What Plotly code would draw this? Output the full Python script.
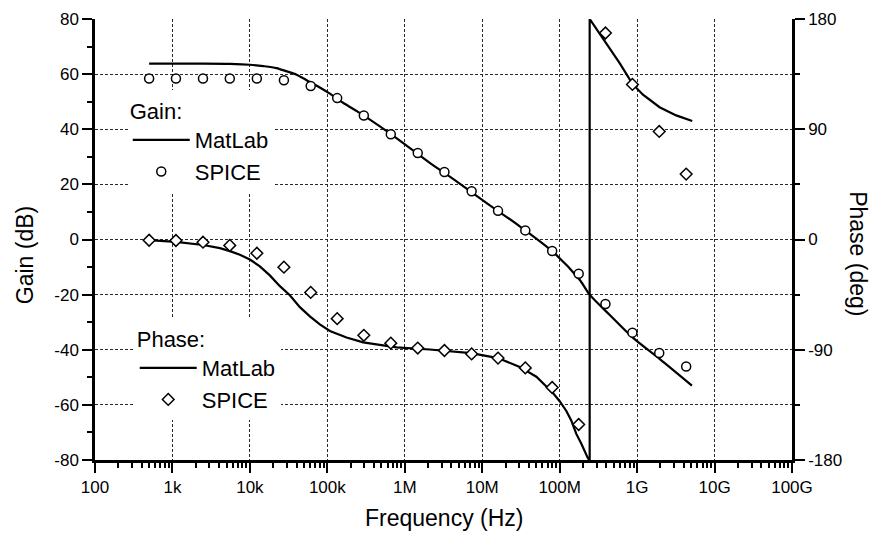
import plotly.graph_objects as go

# ---------------- data ----------------
# SPICE simulation points
freq_spice = [500, 1.11e3, 2.48e3, 5.5e3, 1.23e4, 2.75e4, 6.1e4, 1.34e5, 2.96e5, 6.6e5,
              1.47e6, 3.25e6, 7.3e6, 1.6e7, 3.6e7, 8.0e7, 1.76e8, 3.9e8, 8.7e8, 1.93e9, 4.3e9]
gain_spice = [58.4, 58.4, 58.4, 58.4, 58.4, 57.8, 55.7, 51.3, 45.0, 38.2,
              31.4, 24.5, 17.5, 10.4, 3.3, -4.2, -12.4, -23.4, -33.8, -41.2, -46.1]
phase_spice = [-0.6, -0.8, -2.2, -4.8, -11.2, -22.6, -43.2, -64.6, -78.2, -84.6,
               -88.6, -90.6, -93.4, -96.8, -104.8, -120.8, -151.0, 168.6, 126.6, 88.2, 53.4]

# MatLab gain curve
freq_gain_ml = [500, 1.1e3, 2.5e3, 5.5e3, 1e4, 1.5e4, 2.2e4, 3e4, 4e4, 5.4e4, 7.5e4, 1.08e5,
                1.6e5, 2.9e5, 7.8e5, 2.1e6, 4.2e6, 1.13e7, 3.05e7, 8.2e7, 1.81e8, 2.44e8,
                4.4e8, 8.8e8, 1.95e9, 5.1e9]
gain_ml = [63.8, 63.8, 63.8, 63.7, 63.4, 62.9, 62.2, 61.0, 59.8, 57.8, 55.6, 52.9,
           49.6, 45.1, 36.8, 27.8, 22.0, 13.3, 4.8, -4.5, -14.6, -20.0,
           -27.3, -35.6, -43.3, -53.0]

# MatLab phase curve (wraps from -180 to +180 near 244 MHz)
freq_phase_ml = [500, 1.11e3, 2.49e3, 4.1e3, 5.52e3, 7.43e3, 1e4, 1.345e4, 1.81e4, 2.44e4,
                 3.28e4, 4.42e4, 5.95e4, 8.0e4, 1.08e5, 1.77e5, 2.9e5, 4.75e5, 7.82e5,
                 2.1e6, 7.2e6, 1.6e7, 3.05e7, 5.0e7, 8.2e7, 1.0e8, 1.22e8, 1.416e8, 1.64e8,
                 1.906e8, 2.32e8, 2.44e8, 2.44e8, 3.28e8, 4.42e8, 5.95e8, 8.67e8, 1.19e9,
                 1.95e9, 3.2e9, 5.15e9]
phase_ml = [-0.5, -1.9, -4.5, -7.0, -9.5, -12.5, -16.3, -21.9, -29.3, -38.1,
            -45.5, -55.2, -62.7, -69.3, -74.7, -80.0, -84.0, -86.1, -88.0,
            -89.8, -92.8, -96.8, -104.0, -112.0, -125.3, -132.0, -140.0, -148.0, -158.7,
            -166.7, -178.7, -180.0, 180.0, 168.0, 156.0, 144.0, 127.2, 118.2,
            108.0, 101.3, 96.8]

# axis ticks
x_tick_vals = [1e2, 1e3, 1e4, 1e5, 1e6, 1e7, 1e8, 1e9, 1e10, 1e11]
x_tick_text = ["100", "1k", "10k", "100k", "1M", "10M", "100M", "1G", "10G", "100G"]
x_minor_vals = [m * d for d in x_tick_vals[:-1] for m in range(2, 10)]
gain_ticks = [-80, -60, -40, -20, 0, 20, 40, 60, 80]
gain_tick_text = ["-80", "-60", "-40", "-20", "0", "20", "40", "60", "80"]
gain_minor = [-70, -50, -30, -10, 10, 30, 50, 70]
gain_grid = [-60, -40, -20, 0, 20, 40, 60]
phase_ticks = [-180, -90, 0, 90, 180]
phase_tick_text = ["-180", "-90", "0", "90", "180"]
phase_minor = [-135, -45, 45, 135]

FONT = "Liberation Sans, Arial, sans-serif"
GRID = "#2a2a2a"

fig = go.Figure()

fig.add_trace(go.Scatter(x=freq_gain_ml, y=gain_ml, mode="lines", name="MatLab",
                         line=dict(color="black", width=2.2, shape="spline", smoothing=0.8),
                         yaxis="y", legend="legend"))
fig.add_trace(go.Scatter(x=freq_spice, y=gain_spice, mode="markers", name="SPICE",
                         marker=dict(symbol="circle", size=9, color="white",
                                     line=dict(color="black", width=1.5)),
                         yaxis="y", legend="legend"))
fig.add_trace(go.Scatter(x=freq_phase_ml, y=phase_ml, mode="lines", name="MatLab",
                         line=dict(color="black", width=2.2, shape="linear"),
                         yaxis="y2", legend="legend2"))
fig.add_trace(go.Scatter(x=freq_spice, y=phase_spice, mode="markers", name="SPICE",
                         marker=dict(symbol="diamond", size=9, color="white",
                                     line=dict(color="black", width=1.5)),
                         yaxis="y2", legend="legend2"))
# helper trace for the interior grid axis
fig.add_trace(go.Scatter(x=[None], y=[None], yaxis="y3", showlegend=False, hoverinfo="skip"))

tickfont = dict(family=FONT, size=17, color="black")

fig.update_layout(
    width=874, height=540,
    margin=dict(l=95, r=82, t=10, b=80),
    paper_bgcolor="white", plot_bgcolor="white",
    font=dict(family=FONT, color="black"),
    xaxis=dict(type="log", range=[2, 11], tickvals=x_tick_vals, ticktext=x_tick_text,
               ticks="outside", ticklen=10, tickwidth=2, tickcolor="black",
               showline=True, linewidth=2.5, linecolor="black",
               showgrid=True, gridcolor=GRID, gridwidth=1, griddash="3px,2px",
               zeroline=False, tickfont=tickfont,
               minor=dict(tickvals=x_minor_vals, ticks="outside", ticklen=5,
                          tickwidth=1.5, tickcolor="black", showgrid=False)),
    yaxis=dict(range=[-80, 80], tickvals=gain_ticks, ticktext=gain_tick_text,
               ticks="outside", ticklen=10,
               tickwidth=2, tickcolor="black", showline=True, linewidth=2.5,
               linecolor="black", showgrid=False, zeroline=False, tickfont=tickfont,
               minor=dict(tickvals=gain_minor, ticks="outside", ticklen=5,
                          tickwidth=1.5, tickcolor="black", showgrid=False)),
    yaxis2=dict(overlaying="y", side="right", anchor="x", range=[-180, 180],
                tickvals=phase_ticks, ticktext=phase_tick_text,
                ticks="outside", ticklen=10, tickwidth=2,
                tickcolor="black", showline=True, linewidth=2.5, linecolor="black",
                showgrid=False, zeroline=False, tickfont=tickfont,
                minor=dict(tickvals=phase_minor, ticks="outside", ticklen=5,
                           tickwidth=1.5, tickcolor="black", showgrid=False)),
    yaxis3=dict(overlaying="y", anchor="x", range=[-80, 80], tickvals=gain_grid,
                showticklabels=False, ticks="", showline=False, zeroline=False,
                showgrid=True, gridcolor=GRID, gridwidth=1, griddash="3px,2px"),
    legend=dict(x=0.047, y=0.838, xanchor="left", yanchor="top",
                bgcolor="white", borderwidth=0, itemwidth=57,
                font=dict(family=FONT, size=22, color="black"),
                title=dict(text="Gain:", font=dict(family=FONT, size=22, color="black"))),
    legend2=dict(x=0.057, y=0.321, xanchor="left", yanchor="top",
                 bgcolor="white", borderwidth=0, itemwidth=57,
                 font=dict(family=FONT, size=22, color="black"),
                 title=dict(text="Phase:", font=dict(family=FONT, size=22, color="black"))),
    annotations=[
        dict(text="Frequency (Hz)", xref="paper", yref="paper", x=0.5, y=-0.131,
             xanchor="center", yanchor="middle", showarrow=False,
             font=dict(family=FONT, size=23, color="black")),
        dict(text="Gain (dB)", xref="paper", yref="paper", x=-0.1004, y=0.4644,
             xanchor="center", yanchor="middle", showarrow=False, textangle=-90,
             font=dict(family=FONT, size=23, color="black")),
        dict(text="Phase (deg)", xref="paper", yref="paper", x=1.0947, y=0.469,
             xanchor="center", yanchor="middle", showarrow=False, textangle=90,
             font=dict(family=FONT, size=23, color="black")),
    ],
)

fig.write_html("out.html")
